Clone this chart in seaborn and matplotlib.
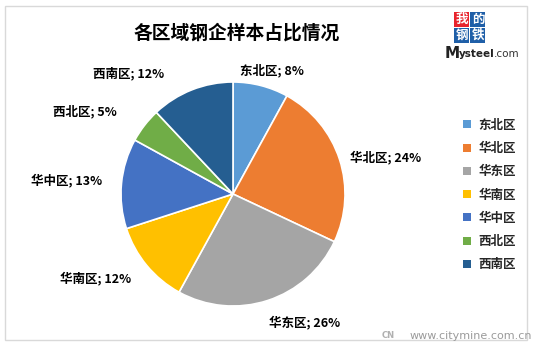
import matplotlib
matplotlib.use("Agg")
import matplotlib.pyplot as plt
import seaborn as sns
import numpy as np
from matplotlib.patches import Patch, Rectangle

# ---- data ----
regions = ["东北区", "华北区", "华东区", "华南区", "华中区", "西北区", "西南区"]
shares = [8, 24, 26, 12, 13, 5, 12]
title = "各区域钢企样本占比情况"

# ---- style ----
colors = ["#5B9BD5", "#ED7D31", "#A5A5A5", "#FFC000", "#4472C4", "#70AD47", "#255E91"]
sns.set_theme(style="white")
plt.rcParams["font.family"] = ["Noto Sans CJK SC", "DejaVu Sans"]

W, H = 533, 347
fig = plt.figure(figsize=(W / 100, H / 100), dpi=100)
fig.patch.set_facecolor("white")
ax = fig.add_axes([0, 0, 1, 1])

cx, cy, R = 233, H - 194, 112
wedges, _ = ax.pie(shares, colors=sns.color_palette(colors), startangle=90,
                   counterclock=False, center=(cx, cy), radius=R,
                   wedgeprops=dict(edgecolor="white", linewidth=1.2))
ax.set_xlim(0, W)
ax.set_ylim(0, H)
ax.set_aspect("equal")
ax.axis("off")

# data labels (layout: radial distance and horizontal nudge, pixels)
label_r = [128, 120, 135, 132, 149, 134, 130]
label_dx = [7, 38, 30, -36, -18, -42, -57]
for w, reg, s, r, dx in zip(wedges, regions, shares, label_r, label_dx):
    ang = np.deg2rad((w.theta1 + w.theta2) / 2)
    x = cx + r * np.cos(ang) + dx
    y = cy + r * np.sin(ang)
    ax.text(x, y, f"{reg}; {s}%", ha="center", va="center", fontsize=9,
            fontweight="bold", color="black")

# title
fig.text(237 / W, 1 - 33 / H, title, ha="center", va="center", fontsize=13.5,
         fontweight="bold", color="black")

# legend
handles = [Patch(facecolor=c, edgecolor="none") for c in colors]
leg = fig.legend(handles, regions, loc="center left",
                 bbox_to_anchor=(457 / W, 1 - 195 / H), frameon=False,
                 prop=dict(size=9, weight="bold"), handlelength=0.6,
                 handleheight=0.6, handletextpad=0.6, labelspacing=0.82,
                 borderpad=0)

# outer border
fig.patches.append(Rectangle((5 / W, 1 - 340 / H), (527 - 5) / W, (340 - 6) / H,
                             transform=fig.transFigure, fill=False,
                             edgecolor="#d9d9d9", linewidth=1))

# Mysteel logo watermark
boxes = [("我", "#E8242C", 462, 19), ("的", "#1F5FA8", 478, 19),
         ("钢", "#1F5FA8", 462, 35), ("铁", "#1F5FA8", 478, 35)]
for ch, bc, bx, by in boxes:
    fig.patches.append(Rectangle(((bx - 8) / W, 1 - (by + 8) / H), 15 / W, 15 / H,
                                 transform=fig.transFigure, facecolor=bc,
                                 edgecolor="none"))
    fig.text(bx / W, 1 - by / H, ch, ha="center", va="center", fontsize=9,
             fontweight="bold", color="white")
fig.text(445 / W, 1 - 53 / H, "M", ha="left", va="center", fontsize=11,
         fontweight="bold", color="#222222", family="DejaVu Sans")
fig.text(459 / W, 1 - 54 / H, "ysteel", ha="left", va="center", fontsize=7.5,
         fontweight="bold", color="#222222", family="DejaVu Sans")
fig.text(494 / W, 1 - 54 / H, ".com", ha="left", va="center", fontsize=7.5,
         color="#333333", family="DejaVu Sans")

# citymine watermark
fig.text(410 / W, 1 - 336 / H, "www.citymine.com.cn", ha="left", va="center",
         fontsize=8, color="#9a9a9a", family="DejaVu Sans")
fig.text(388 / W, 1 - 335 / H, "CN", ha="center", va="center", fontsize=6,
         fontweight="bold", color="#b0b0b0", family="DejaVu Sans")

fig.savefig("out.png", dpi=100, facecolor="white")
